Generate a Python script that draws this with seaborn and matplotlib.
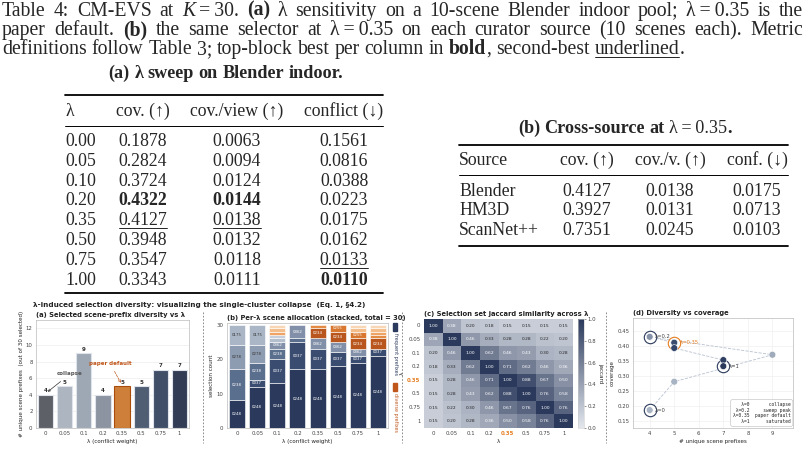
import numpy as np
import pandas as pd
import matplotlib
matplotlib.use('Agg')
import matplotlib.pyplot as plt
import seaborn as sns
from matplotlib.lines import Line2D
from matplotlib.patches import Rectangle
from matplotlib.colors import LinearSegmentedColormap, to_rgb

# ---- data: table (a) lambda sweep
lam = [0.0, 0.05, 0.1, 0.2, 0.35, 0.5, 0.75, 1.0]
lam_table = ["0.00", "0.05", "0.10", "0.20", "0.35", "0.50", "0.75", "1.00"]
cov = [0.1878, 0.2824, 0.3724, 0.4322, 0.4127, 0.3948, 0.3547, 0.3343]
cov_view = [0.0063, 0.0094, 0.0124, 0.0144, 0.0138, 0.0132, 0.0118, 0.0111]
conflict = [0.1561, 0.0816, 0.0388, 0.0223, 0.0175, 0.0162, 0.0133, 0.0110]

# ---- data: table (b) cross-source
sources = ["Blender", "HM3D", "ScanNet++"]
src_cov = [0.4127, 0.3927, 0.7351]
src_cov_v = [0.0138, 0.0131, 0.0245]
src_conf = [0.0175, 0.0713, 0.0103]

# ---- data: figure panels
lam_labels = ["0", "0.05", "0.1", "0.2", "0.35", "0.5", "0.75", "1"]
n_unique = [4, 5, 9, 4, 5, 5, 7, 7]
alloc_names = [
    ["0248", "0238", "0278", "0175"],
    ["0248", "0037", "0238", "0278", "0175"],
    ["0248", "0037", "0238", "0362", "g1", "g2", "o1", "o2", "o3"],
    ["0248", "0037", "g3", "0362"],
    ["0248", "0037", "0362", "0234", "o4"],
    ["0248", "0037", "0362", "0234", "0255"],
    ["0248", "0037", "0362", "0234", "0255", "o2", "o3"],
    ["0248", "0037", "0234", "o4", "o1", "o2", "o3"],
]
alloc_counts = [
    [8, 9, 7, 6],
    [12, 2, 5, 5, 6],
    [13, 7, 3, 2, 1, 1, 1, 1, 1],
    [17, 8, 1, 4],
    [17, 6, 3, 3, 1],
    [18, 4, 3, 3, 2],
    [19, 2, 2, 3, 2, 1, 1],
    [21, 2, 3, 1, 1, 1, 1],
]
jaccard = [
    [1.00, 0.38, 0.20, 0.18, 0.15, 0.15, 0.15, 0.15],
    [0.38, 1.00, 0.46, 0.33, 0.28, 0.28, 0.22, 0.20],
    [0.20, 0.46, 1.00, 0.62, 0.46, 0.43, 0.30, 0.28],
    [0.18, 0.33, 0.62, 1.00, 0.71, 0.62, 0.46, 0.36],
    [0.15, 0.28, 0.46, 0.71, 1.00, 0.88, 0.67, 0.50],
    [0.15, 0.28, 0.43, 0.62, 0.88, 1.00, 0.76, 0.58],
    [0.15, 0.22, 0.30, 0.46, 0.67, 0.76, 1.00, 0.76],
    [0.15, 0.20, 0.28, 0.36, 0.50, 0.58, 0.76, 1.00],
]
legend_rows = [("λ=0", "collapse"), ("λ=0.2", "sweep peak"), ("λ=0.35", "paper default"), ("λ=1", "saturated")]

# ---- style
NAVY = "#2b3a5c"
ORANGE = "#e67e22"
DORANGE = "#c0561a"
bar_colors = ["#5b6068", "#a9b5c3", "#9ba7b7", "#8893a6", ORANGE, "#4a5c7a", "#3b4c6e", "#2c3a5a"]
pt_colors = ["#a8b3c3", "#a8b3c3", "#9fabbb", "#8592a8", "#3b4d6e", "#34466a", "#2e3f62", NAVY]
seg_colors = {"0248": "#2b3a5c", "0037": "#3a4c70", "0238": "#5a6e8e", "0278": "#8e9cb1",
              "0175": "#aab6c6", "0362": "#8190a8", "g1": "#b4bfcd", "g2": "#c6cedb",
              "g3": "#5a6e8e", "0234": "#b9561e", "0255": "#d8772f", "o4": "#e38b45",
              "o1": "#eea466", "o2": "#f3bd8c", "o3": "#f8d7b7"}

sns.set_theme(style="whitegrid")
plt.rcParams['font.family'] = ['DejaVu Sans']

W, H = 805, 451
fig = plt.figure(figsize=(8.05, 4.51), dpi=100)
fig.patch.set_facecolor('white')
renderer = fig.canvas.get_renderer()
SERIF = ['Liberation Serif', 'DejaVu Serif']
CAP = 14.2   # caption size
FS = 12.8    # table body size
TT = 13.1    # sub-table titles


def fx(x):
    return x / W


def fy(y):
    return 1 - y / H


def hline(x0, x1, y, lw, **kw):
    fig.add_artist(Line2D([fx(x0), fx(x1)], [fy(y), fy(y)], transform=fig.transFigure,
                          color=kw.pop('color', 'black'), lw=lw, **kw))


def stext(x, y, s, **kw):
    return fig.text(fx(x), fy(y), s, family=SERIF, fontsize=kw.pop('fontsize', FS),
                    va='baseline', **kw)


def draw_runs(runs, y, x0=None, x1=None, cx=None, size=CAP):
    words = []
    new_word = True
    for txt, st in runs:
        for k, p in enumerate(txt.split(' ')):
            if k > 0:
                new_word = True
            if p == '':
                continue
            if new_word:
                words.append([])
                new_word = False
            words[-1].append((p, st))
    items = []
    for w in words:
        objs = []
        for p, st in w:
            t = fig.text(0, fy(y), p, family=SERIF, fontsize=size, va='baseline', ha='left',
                         fontweight='bold' if st == 'b' else 'normal',
                         style='italic' if st == 'i' else 'normal')
            objs.append((t, st, t.get_window_extent(renderer).width))
        items.append(objs)
    total = sum(o[2] for objs in items for o in objs)
    space = size * 100 / 72 * 0.25
    if x1 is not None:
        gap = (x1 - x0 - total) / (len(items) - 1)
    else:
        gap = space
    if cx is not None:
        x0 = cx - (total + gap * (len(items) - 1)) / 2
    x = x0
    for objs in items:
        for t, st, w in objs:
            t.set_x(fx(x))
            if st == 'u':
                hline(x, x + w, y + 2.8, 0.6)
            x += w
        x += gap


# ---- caption
TS = "\u2009=\u2009"
draw_runs([("Table 4: CM-EVS at ", 'n'), ("K", 'i'), (TS + "30. ", 'n'), ("(a)", 'b'),
           (" λ sensitivity on a 10-scene Blender indoor pool; λ" + TS + "0.35 is the", 'n')],
          15.8, 2, 803)
draw_runs([("paper default. ", 'n'), ("(b)", 'b'),
           (" the same selector at λ" + TS + "0.35 on each curator source (10 scenes each).  Metric", 'n')],
          35.0, 2, 803)
draw_runs([("definitions follow Table 3; top-block best per column in ", 'n'), ("bold", 'b'),
           (", second-best ", 'n'), ("underlined", 'u'), (".", 'n')], 53.8, 2)

# ---- table (a)
draw_runs([("(a) λ sweep on Blender indoor.", 'b')], 78, cx=226, size=TT)
hline(65, 383, 95, 1.3)
hline(65, 383, 126, 0.7)
hline(65, 383, 293, 1.3)
col_x = [143, 237, 344]
stext(65, 116, "λ", ha='left')
for cxp, hd in zip(col_x, ["cov. (↑)", "cov./view (↑)", "conflict (↓)"]):
    stext(cxp, 116, hd, ha='center')
cols = [cov, cov_view, conflict]
best_high = [True, True, False]
for j, (vals, hi) in enumerate(zip(cols, best_high)):
    order = np.argsort(vals)
    if hi:
        order = order[::-1]
    for i, v in enumerate(vals):
        yb = 146 + i * 19.8
        if j == 0:
            stext(65, yb, lam_table[i], ha='left')
        t = stext(col_x[j], yb, f"{v:.4f}", ha='center',
                  fontweight='bold' if i == order[0] else 'normal')
        if i == order[1]:
            w = t.get_window_extent(renderer).width
            hline(col_x[j] - w / 2, col_x[j] + w / 2, yb + 2.8, 0.6)

# ---- table (b)
draw_runs([("(b) Cross-source at ", 'b'), ("λ" + TS + "0.35", 'n'), (".", 'b')], 133, cx=625, size=TT)
hline(459, 788, 145, 1.3)
hline(459, 788, 175, 0.7)
hline(459, 788, 246, 1.3)
colb = [587, 670, 757]
stext(459, 165, "Source", ha='left')
for cxp, hd in zip(colb, ["cov. (↑)", "cov./v. (↑)", "conf. (↓)"]):
    stext(cxp, 165, hd, ha='center')
for i, s in enumerate(sources):
    yb = 196 + i * 19.5
    stext(459, yb, s, ha='left')
    for cxp, v in zip(colb, [src_cov[i], src_cov_v[i], src_conf[i]]):
        stext(cxp, yb, f"{v:.4f}", ha='center')

# ---- bottom figure
TK = 3.9
LB = 4.1
fig.text(fx(33), fy(305), "λ-induced selection diversity: visualizing the single-cluster collapse  (Eq. 1, §4.2)",
         fontsize=5.2, fontweight='bold', va='center', color='#222')
for xs in [203, 402, 606]:
    fig.add_artist(Line2D([fx(xs)] * 2, [fy(312), fy(443)], transform=fig.transFigure,
                          color='#777', lw=0.6, ls=(0, (2, 2))))


def style_ax(ax, title):
    ax.set_title(title, loc='left', fontsize=4.9, fontweight='bold', pad=2.5, color='#222')
    ax.tick_params(labelsize=TK, pad=1, length=1.5, width=0.4, colors='#444')
    for sp in ax.spines.values():
        sp.set_linewidth(0.5)
        sp.set_color('#bbbbbb')
    ax.xaxis.label.set_size(LB)
    ax.yaxis.label.set_size(LB)
    ax.xaxis.labelpad = 1.5
    ax.yaxis.labelpad = 1.5


# (a) bars
ax_a = fig.add_axes([fx(36), fy(428), (189 - 36) / W, (428 - 320) / H])
df_a = pd.DataFrame({'lam': lam_labels, 'n': n_unique})
sns.barplot(data=df_a, x='lam', y='n', hue='lam', palette=bar_colors, legend=False, ax=ax_a,
            edgecolor='#dfe4ec', linewidth=0.8, width=0.8, zorder=3)
ax_a.patches[4].set_edgecolor('#a94c0c')
ax_a.set_ylim(0, 13)
ax_a.set_yticks(range(0, 13, 2))
ax_a.grid(axis='x', visible=False)
ax_a.grid(axis='y', color='#e8e8e8', lw=0.4)
for i, v in enumerate(n_unique):
    ax_a.text(i, v + 0.2, str(v), ha='center', va='bottom', fontsize=4.0, fontweight='bold', color='#333')
ax_a.annotate('collapse', xy=(0, 4.15), xytext=(1.28, 6.5), fontsize=4.0, fontweight='bold', color='#555',
              ha='center', va='center', arrowprops=dict(arrowstyle='->', color='#333', lw=0.5))
ax_a.annotate('paper default', xy=(4, 5.15), xytext=(3.37, 7.8), fontsize=4.0, fontweight='bold', color=DORANGE,
              ha='center', va='center', arrowprops=dict(arrowstyle='->', color=DORANGE, lw=0.5, ls='--'))
ax_a.set_xlabel('λ (conflict weight)')
ax_a.set_ylabel('# unique scene prefixes  (out of 30 selected)')
style_ax(ax_a, '(a) Selected scene-prefix diversity vs λ')

# (b) stacked allocation
ax_b = fig.add_axes([fx(227), fy(428), (388 - 227) / W, (428 - 323) / H])
for i, (names, counts) in enumerate(zip(alloc_names, alloc_counts)):
    bottom = 0
    for nm, c in zip(names, counts):
        col = seg_colors[nm]
        ax_b.bar(i, c, bottom=bottom, color=col, edgecolor='white', linewidth=0.4, width=0.8)
        if c >= 2 and nm[0].isdigit():
            lum = np.dot(to_rgb(col), [0.299, 0.587, 0.114])
            ax_b.text(i, bottom + c / 2, nm, ha='center', va='center', fontsize=2.8,
                      color='white' if lum < 0.6 else '#333')
        bottom += c
ax_b.set_xticks(range(len(lam_labels)))
ax_b.set_xticklabels(lam_labels)
ax_b.set_xlim(-0.5, 7.5)
ax_b.set_ylim(0, 30.5)
ax_b.set_yticks([0, 10, 20, 30])
ax_b.grid(False)
ax_b.set_xlabel('λ (conflict weight)')
ax_b.set_ylabel('selection count')
style_ax(ax_b, '(b) Per-λ scene allocation (stacked, total = 30)')
fig.add_artist(Rectangle((fx(393), fy(331)), 4 / W, 8 / H, transform=fig.transFigure, color=NAVY))
fig.text(fx(395), fy(333), 'frequent prefixes', rotation=270, ha='center', va='top', fontsize=3.5, color=NAVY)
fig.add_artist(Rectangle((fx(393), fy(391)), 4 / W, 8 / H, transform=fig.transFigure, color=DORANGE))
fig.text(fx(395), fy(393), 'diverse prefixes', rotation=270, ha='center', va='top', fontsize=3.5, color=DORANGE)

# (c) jaccard heatmap
ax_c = fig.add_axes([fx(424), fy(428), (573 - 424) / W, (428 - 319) / H])
cax = fig.add_axes([fx(578), fy(428), 6 / W, (428 - 319) / H])
cmap = LinearSegmentedColormap.from_list('jac', ['#e3e7ed', NAVY])
df_c = pd.DataFrame(jaccard, index=lam_labels, columns=lam_labels)
sns.heatmap(df_c, ax=ax_c, cbar_ax=cax, cmap=cmap, vmin=0, vmax=1, annot=True, fmt='.2f',
            annot_kws={'fontsize': 3.2}, xticklabels=True, yticklabels=True)
ax_c.set_xlabel('λ')
ax_c.set_ylabel('λ')
ax_c.tick_params(axis='x', rotation=0)
ax_c.tick_params(axis='y', rotation=0)
style_ax(ax_c, '(c) Selection set jaccard similarity across λ')
for tl in [ax_c.get_xticklabels()[4], ax_c.get_yticklabels()[4]]:
    tl.set_color(ORANGE)
    tl.set_fontweight('bold')
cax.tick_params(labelsize=TK, pad=1, length=1.5, width=0.4, colors='#444')
cax.set_yticks([0, 0.2, 0.4, 0.6, 0.8, 1.0])
cax.set_ylabel('jaccard', rotation=270, fontsize=LB, labelpad=5)
for sp in cax.spines.values():
    sp.set_linewidth(0.4)

# (d) diversity vs coverage
ax_d = fig.add_axes([fx(633), fy(428), (793 - 633) / W, (428 - 318) / H])
df_d = pd.DataFrame({'unique': n_unique, 'cov': cov, 'lam': lam_labels})
sns.lineplot(data=df_d, x='unique', y='cov', sort=False, estimator=None, ax=ax_d,
             color='#b8c2d0', lw=0.6, ls='--', zorder=1)
for i in [0, 3, 4, 7]:
    ax_d.scatter(n_unique[i], cov[i], s=80, facecolor='white',
                 edgecolor=ORANGE if i == 4 else NAVY, lw=0.8, zorder=2)
sns.scatterplot(data=df_d, x='unique', y='cov', hue='lam', palette=pt_colors, s=24,
                edgecolor='white', linewidth=0.4, legend=False, ax=ax_d, zorder=3)
for i in [0, 3, 4, 7]:
    ax_d.text(n_unique[i] + 0.22, cov[i], 'λ=' + lam_labels[i], va='center', fontsize=3.8,
              color=ORANGE if i == 4 else '#444')
legend_txt = "\n".join(f"{a:>6}  {b:>13}" for a, b in legend_rows)
ax_d.text(0.985, 0.035, legend_txt, transform=ax_d.transAxes, ha='right', va='bottom',
          family='DejaVu Sans Mono', fontsize=3.3, color='#222', zorder=5,
          bbox=dict(boxstyle='round,pad=0.5', fc='white', ec='#bbbbbb', lw=0.4))
ax_d.set_xlim(3.32, 9.84)
ax_d.set_ylim(0.128, 0.495)
ax_d.set_xticks(range(4, 10))
ax_d.set_yticks([0.15, 0.2, 0.25, 0.3, 0.35, 0.4, 0.45])
ax_d.grid(color='#ececec', lw=0.4)
ax_d.set_xlabel('# unique scene prefixes')
ax_d.set_ylabel('coverage')
style_ax(ax_d, '(d) Diversity vs coverage')

fig.savefig('out.png', dpi=100, facecolor='white')
